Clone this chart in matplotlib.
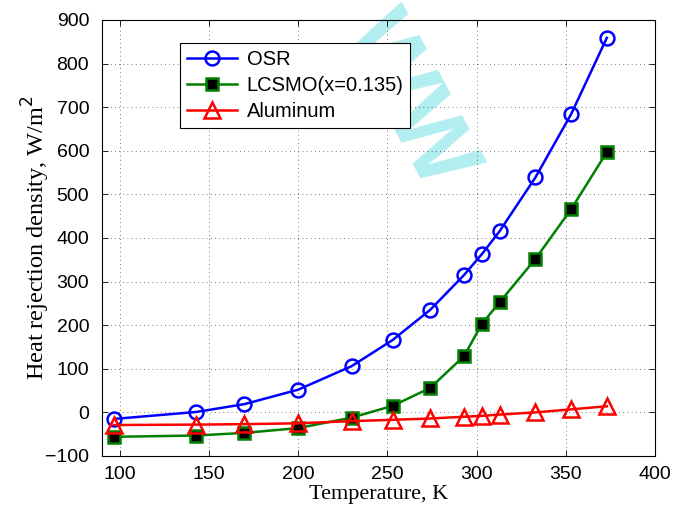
import matplotlib
matplotlib.use("Agg")
import matplotlib.pyplot as plt

temperature = [97, 143, 170, 200, 230, 253, 274, 293, 303, 313, 333, 353, 373]
osr = [-15, 1, 19, 52, 106, 166, 235, 315, 363, 416, 539, 684, 859]
lcsmo = [-56, -53, -47, -36, -12, 15, 56, 129, 203, 253, 352, 466, 597]
aluminum = [-29, -28, -27, -25, -20, -17, -14, -10, -8, -5, 0, 7, 14]
series_labels = ["OSR", "LCSMO(x=0.135)", "Aluminum"]
xticks = [100, 150, 200, 250, 300, 350, 400]
yticks = [-100, 0, 100, 200, 300, 400, 500, 600, 700, 800, 900]

fig = plt.figure(figsize=(6.73, 5.07), dpi=100)
ax = fig.add_axes([0.1511, 0.1006, 0.8222, 0.86])

sans = ["Liberation Sans", "DejaVu Sans"]
serif = ["Liberation Serif", "DejaVu Serif"]

ax.plot(temperature, osr, color="#0000ff", lw=1.8, marker="o", ms=10,
        mfc="none", mec="#0000ff", mew=1.8, label=series_labels[0], zorder=3)
ax.plot(temperature, lcsmo, color="#008000", lw=1.8, marker="s", ms=8.5,
        mfc="black", mec="#008000", mew=1.8, label=series_labels[1], zorder=3)
ax.plot(temperature, aluminum, color="#ff0000", lw=1.8, marker="^", ms=11,
        mfc="none", mec="#ff0000", mew=1.8, label=series_labels[2], zorder=3)

ax.set_xlim(90, 400)
ax.set_ylim(-100, 900)
ax.set_xticks(xticks)
ax.set_yticks(yticks)
ax.set_xticklabels([str(v) for v in xticks], family=sans, fontsize=14)
ax.set_yticklabels([("\u2212" + str(-v)) if v < 0 else str(v) for v in yticks], family=sans, fontsize=14)
ax.tick_params(axis="y", direction="in", left=True, right=True, length=4, width=0.6, pad=9)
ax.tick_params(axis="x", direction="in", bottom=True, top=True, length=4, width=0.6, pad=7)
ax.grid(True, color="black", linestyle=(0, (1, 4)), linewidth=0.6, alpha=0.7)
for s in ax.spines.values():
    s.set_linewidth(0.8)

ax.set_xlabel("Temperature, K", family=serif, fontsize=16, labelpad=2)
ax.set_ylabel("Heat rejection density, W/m$^2$", family=serif, fontsize=17.5, labelpad=-5)

leg = ax.legend(loc="upper left", bbox_to_anchor=(0.1416, 0.947), borderaxespad=0,
                prop={"family": sans, "size": 14.5},
                fancybox=False, edgecolor="black", framealpha=1, handlelength=2.5,
                borderpad=0.35, labelspacing=0.35, handletextpad=0.45)
leg.get_frame().set_linewidth(0.8)
leg.set_zorder(5)

ax.text(0.605, 0.80, "WW", transform=fig.transFigure, rotation=-62, fontsize=70,
        color="#b2eef0", ha="center", va="center", zorder=1, clip_on=False,
        family=sans, fontweight="bold")

fig.savefig("out.png", dpi=100)
